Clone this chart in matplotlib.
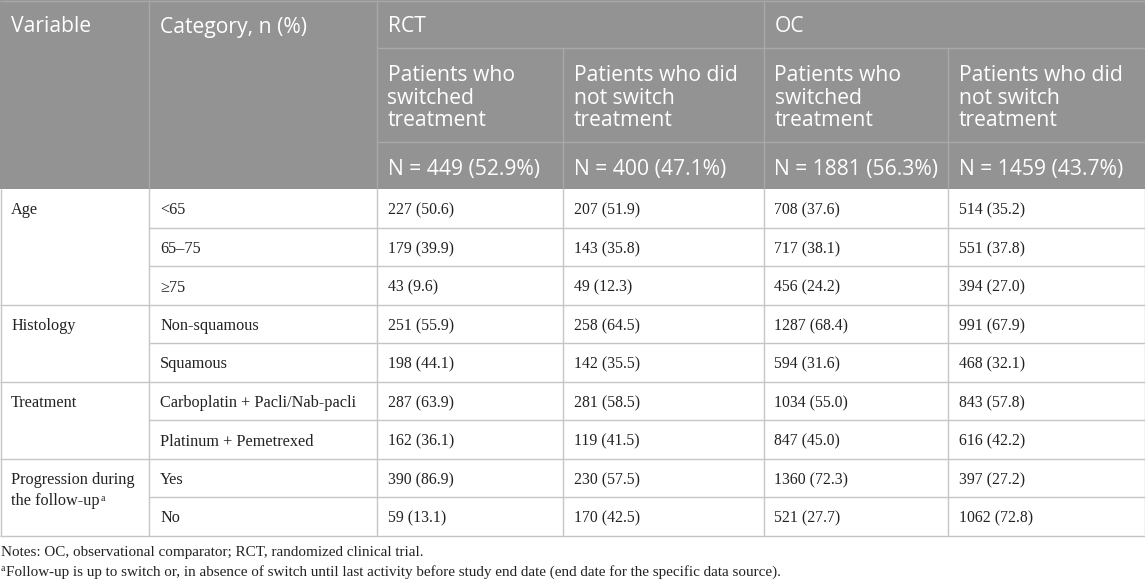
import matplotlib
matplotlib.use("Agg")
import matplotlib.pyplot as plt

# ---------------- data ----------------
variables = ["Age", "Histology", "Treatment", "Progression during|the follow-up"]
categories = [["<65", "65–75", "≥75"],
              ["Non-squamous", "Squamous"],
              ["Carboplatin + Pacli/Nab-pacli", "Platinum + Pemetrexed"],
              ["Yes", "No"]]
rct_switch_n = [227, 179, 43, 251, 198, 287, 162, 390, 59]
rct_switch_pct = [50.6, 39.9, 9.6, 55.9, 44.1, 63.9, 36.1, 86.9, 13.1]
rct_noswitch_n = [207, 143, 49, 258, 142, 281, 119, 230, 170]
rct_noswitch_pct = [51.9, 35.8, 12.3, 64.5, 35.5, 58.5, 41.5, 57.5, 42.5]
oc_switch_n = [708, 717, 456, 1287, 594, 1034, 847, 1360, 521]
oc_switch_pct = [37.6, 38.1, 24.2, 68.4, 31.6, 55.0, 45.0, 72.3, 27.7]
oc_noswitch_n = [514, 551, 394, 991, 468, 843, 616, 397, 1062]
oc_noswitch_pct = [35.2, 37.8, 27.0, 67.9, 32.1, 57.8, 42.2, 27.2, 72.8]
group_n = [449, 400, 1881, 1459]
group_pct = [52.9, 47.1, 56.3, 43.7]
sources = ["RCT", "OC"]
subgroups = ["Patients who|switched|treatment", "Patients who did|not switch|treatment"]
col_titles = ["Variable", "Category, n (%)"]
note1 = "Notes: OC, observational comparator; RCT, randomized clinical trial."
note2 = ("Follow-up is up to switch or, in absence of switch until last activity before "
         "study end date (end date for the specific data source).")

# ---------------- layout ----------------
W, H = 1145, 581
fig = plt.figure(figsize=(W / 100, H / 100), dpi=100)
ax = fig.add_axes([0, 0, 1, 1])
ax.set_xlim(0, W)
ax.set_ylim(H, 0)
ax.axis("off")

xs = [0, 149, 376.5, 562.5, 763.5, 948, 1144.5]
hdr_rows = [0, 48.3, 141.8, 189]
row_h = 38.5
n_rows = sum(len(c) for c in categories)
body_top = hdr_rows[-1]
body_bottom = body_top + n_rows * row_h

HDR_BG = "#939393"
HDR_LINE = "#a8a8a8"
LINE = "#c6c6c6"
TXT = "#222222"
HFONT = dict(family="Open Sans", color="white", fontsize=15.2)
LFONT = dict(family="Liberation Serif", color=TXT, fontsize=11.7)
NFONT = dict(family="Liberation Serif", color=TXT, fontsize=11.3)
FFONT = dict(family="Liberation Serif", color=TXT, fontsize=10.9)
pad = 11

# header background
ax.fill_between([0, W], 0, body_top, color=HDR_BG, lw=0, zorder=0)

# header lines
ax.hlines([hdr_rows[1], hdr_rows[2]], xs[2], xs[-1], color=HDR_LINE, lw=1, zorder=1)
ax.vlines([xs[1], xs[2], xs[4]], 0, body_top, color=HDR_LINE, lw=1, zorder=1)
ax.vlines([xs[3], xs[5]], hdr_rows[1], body_top, color=HDR_LINE, lw=1, zorder=1)
ax.hlines(0.5, 0, W, color=HDR_LINE, lw=1, zorder=1)

# header texts
for i, t in enumerate(col_titles):
    ax.text(xs[i] + pad, 32.5, t, va="baseline", ha="left", **HFONT)
for i, s in enumerate(sources):
    ax.text(xs[2 + 2 * i] + pad, 32.5, s, va="baseline", ha="left", **HFONT)
for g in range(4):
    x0 = xs[2 + g] + pad
    for k, line in enumerate(subgroups[g % 2].split("|")):
        ax.text(x0, 81 + k * 22.5, line, va="baseline", ha="left", **HFONT)
    ax.text(x0, 174.5, f"N = {group_n[g]} ({group_pct[g]:.1f}%)",
            va="baseline", ha="left", **HFONT)

# body
value_cols = [(rct_switch_n, rct_switch_pct), (rct_noswitch_n, rct_noswitch_pct),
              (oc_switch_n, oc_switch_pct), (oc_noswitch_n, oc_noswitch_pct)]
r = 0
for vi, (var, cats) in enumerate(zip(variables, categories)):
    gtop = body_top + r * row_h
    lines = var.split("|")
    for k, line in enumerate(lines):
        t = ax.text(xs[0] + pad, gtop + 25.5 + k * 21, line,
                    va="baseline", ha="left", **LFONT)
        if vi == len(variables) - 1 and k == len(lines) - 1:
            ax.annotate("a", xy=(1, 1), xycoords=t, xytext=(0.5, -0.5),
                        textcoords="offset points", va="top", ha="left",
                        family="Liberation Serif", color=TXT, fontsize=7)
    for ci, cat in enumerate(cats):
        y = body_top + r * row_h
        ax.text(xs[1] + pad, y + 25.5, cat, va="baseline", ha="left", **LFONT)
        for j, (ns, ps) in enumerate(value_cols):
            ax.text(xs[2 + j] + pad, y + 25.5, f"{ns[r]} ({ps[r]:.1f})",
                    va="baseline", ha="left", **NFONT)
        if ci > 0:
            ax.hlines(y, xs[1], xs[-1], color=LINE, lw=1, zorder=1)
        r += 1
    gbot = body_top + r * row_h
    ax.hlines(gbot, xs[0], xs[-1], color=LINE, lw=1, zorder=1)

ax.vlines(xs[1:-1], body_top, body_bottom, color=LINE, lw=1, zorder=1)
ax.vlines([0.5, xs[-1]], body_top, body_bottom, color=LINE, lw=1, zorder=1)

# notes
ax.text(1, 556, note1, va="baseline", ha="left", **FFONT)
ax.text(1, 571, "a", va="baseline", ha="left", family="Liberation Serif",
        color=TXT, fontsize=7)
ax.text(6, 576, note2, va="baseline", ha="left", **FFONT)

fig.savefig("out.png", dpi=100)
